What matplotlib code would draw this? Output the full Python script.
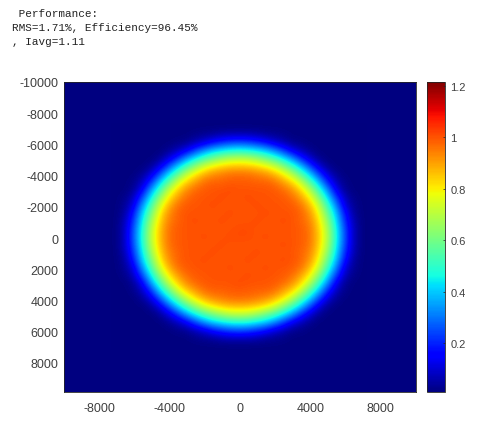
import matplotlib
matplotlib.use('Agg')
import numpy as np
import matplotlib.pyplot as plt

# irradiance, in percent, 500 unit cells, top row first
irradiance_pct = [
[1,1,1,1,1,1,1,1,1,1,1,1,1,1,1,1,1,1,1,1,1,1,1,1,1,1,1,1,1],
[1,1,1,1,1,1,1,1,1,2,3,4,6,7,7,7,6,4,3,2,1,1,1,1,1,1,1,1,1],
[1,1,1,1,1,1,1,2,3,7,11,17,21,24,25,24,21,17,11,7,3,2,1,1,1,1,1,1,1],
[1,1,1,1,1,1,3,7,13,23,32,39,43,46,47,46,43,39,32,23,13,7,3,1,1,1,1,1,1],
[1,1,1,1,1,3,10,20,33,43,52,59,65,69,70,69,65,59,52,43,33,20,10,3,1,1,1,1,1],
[1,1,1,1,3,11,24,39,51,63,73,79,83,85,86,85,83,79,73,63,51,39,24,11,3,1,1,1,1],
[1,1,1,3,10,24,41,55,70,80,87,92,94,96,96,96,94,92,87,80,70,55,41,24,10,3,1,1,1],
[1,1,2,7,20,39,55,72,83,90,96,98,98,99,99,99,98,98,96,90,83,72,55,39,20,7,2,1,1],
[1,1,3,13,33,51,70,83,92,97,99,100,100,101,100,100,100,100,99,97,92,83,70,51,33,13,3,1,1],
[1,2,7,23,43,63,80,90,97,99,100,100,101,100,100,101,100,100,100,99,97,90,80,63,43,23,7,2,1],
[1,3,11,32,52,73,87,96,99,100,100,101,100,100,100,100,101,100,100,100,99,96,87,73,52,32,11,3,1],
[1,4,17,39,59,79,92,98,100,100,100,100,100,101,100,100,100,101,100,100,100,98,92,79,59,39,17,4,1],
[1,6,21,43,65,83,94,98,100,101,100,100,101,100,100,100,101,100,100,101,100,98,94,83,65,43,21,6,1],
[1,7,24,46,69,85,96,99,100,100,100,100,100,100,101,101,100,100,100,100,100,99,96,85,69,46,24,7,1],
[1,7,25,47,70,86,96,99,100,100,101,100,100,101,101,101,100,101,100,100,100,99,96,86,70,47,25,7,1],
[1,7,24,46,69,85,96,99,100,100,100,100,101,100,100,100,100,100,100,101,100,99,96,85,69,46,24,7,1],
[1,6,21,43,65,83,94,98,100,100,100,101,100,100,100,100,101,100,100,100,100,98,94,83,65,43,21,6,1],
[1,4,17,39,59,79,92,98,100,100,101,100,100,100,100,101,100,100,100,101,100,98,92,79,59,39,17,4,1],
[1,3,11,32,52,73,87,96,99,100,100,100,100,101,100,100,100,101,100,100,99,96,87,73,52,32,11,3,1],
[1,2,7,23,43,63,80,90,97,99,100,100,100,100,100,101,100,100,100,99,97,90,80,63,43,23,7,2,1],
[1,1,3,13,33,51,70,83,92,97,99,100,100,100,101,100,100,100,99,97,92,83,70,51,33,13,3,1,1],
[1,1,2,7,20,39,55,72,83,90,96,98,98,99,99,99,98,98,96,90,83,72,55,39,20,7,2,1,1],
[1,1,1,3,10,24,41,55,70,80,87,92,94,96,96,96,94,92,87,80,70,55,41,24,10,3,1,1,1],
[1,1,1,1,3,11,24,39,51,63,73,79,83,85,86,85,83,79,73,63,51,39,24,11,3,1,1,1,1],
[1,1,1,1,1,3,10,20,33,43,52,59,65,69,70,69,65,59,52,43,33,20,10,3,1,1,1,1,1],
[1,1,1,1,1,1,3,7,13,23,32,39,43,46,47,46,43,39,32,23,13,7,3,1,1,1,1,1,1],
[1,1,1,1,1,1,1,2,3,7,11,17,21,24,25,24,21,17,11,7,3,2,1,1,1,1,1,1,1],
[1,1,1,1,1,1,1,1,1,2,3,4,6,7,7,7,6,4,3,2,1,1,1,1,1,1,1,1,1],
[1,1,1,1,1,1,1,1,1,1,1,1,1,1,1,1,1,1,1,1,1,1,1,1,1,1,1,1,1],
]
grid_extent = [-7330, 7170, 7180, -7320]
x_ticks = [-8000, -4000, 0, 4000, 8000]
y_ticks = [-10000, -8000, -6000, -4000, -2000, 0, 2000, 4000, 6000, 8000]
cbar_ticks = [0.2, 0.4, 0.6, 0.8, 1, 1.2]
cbar_labels = ['0.2', '0.4', '0.6', '0.8', '1', '1.2']
vmin = 0.0086
vmax = 1.216
perf_text = ' Performance:\nRMS=1.71%, Efficiency=96.45%\n, Iavg=1.11'

plt.rcParams['font.family'] = ['Liberation Sans']
plt.rcParams['axes.unicode_minus'] = False

W, H = 486, 431
fig = plt.figure(figsize=(W / 100, H / 100), dpi=100)
ax = fig.add_axes([64 / W, 1 - 392.7 / H, 352 / W, 309.7 / H])
cax = fig.add_axes([427 / W, 1 - 393 / H, 18 / W, 310 / H])

values = np.array(irradiance_pct) / 100
cmap = plt.get_cmap('jet')
ax.set_facecolor(cmap(0.0))
im = ax.imshow(values, extent=grid_extent, cmap=cmap, vmin=vmin, vmax=vmax,
               interpolation='bicubic', aspect='auto')
ax.set_xlim(-10000, 10000)
ax.set_ylim(9850, -10000)
ax.set_xticks(x_ticks)
ax.set_yticks(y_ticks)
ax.tick_params(axis='x', length=0, pad=7.5, labelsize=9, labelcolor='#404040')
ax.tick_params(axis='y', length=0, pad=4, labelsize=9, labelcolor='#404040')
for s in ax.spines.values():
    s.set_linewidth(0.6)
    s.set_color('#262626')

cb = fig.colorbar(im, cax=cax)
cb.set_ticks(cbar_ticks)
cb.set_ticklabels(cbar_labels)
cb.ax.tick_params(length=1.5, width=0.5, direction='in', pad=4, labelsize=8,
                  labelcolor='#404040', color='#262626')
cb.outline.set_linewidth(0.6)
cb.outline.set_edgecolor('#262626')

fig.text(12 / W, 1 - 9 / H, perf_text, family='Liberation Mono', fontsize=7.9,
         color='#222222', va='top', ha='left', linespacing=1.5)

fig.savefig('out.png', dpi=100)
